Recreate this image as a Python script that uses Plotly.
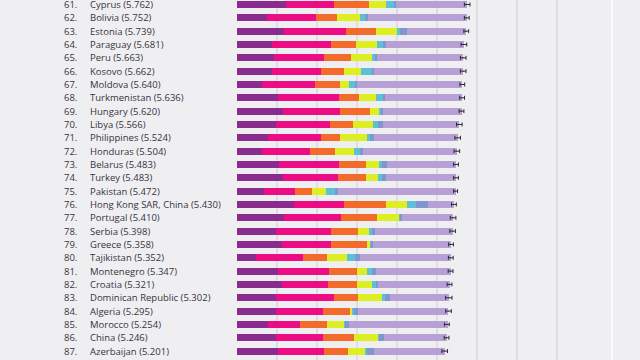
import plotly.graph_objects as go

ranks = list(range(61, 88))
countries = ["Cyprus", "Bolivia", "Estonia", "Paraguay", "Peru", "Kosovo", "Moldova",
             "Turkmenistan", "Hungary", "Libya", "Philippines", "Honduras", "Belarus",
             "Turkey", "Pakistan", "Hong Kong SAR, China", "Portugal", "Serbia", "Greece",
             "Tajikistan", "Montenegro", "Croatia", "Dominican Republic", "Algeria",
             "Morocco", "China", "Azerbaijan"]
scores = [5.762, 5.752, 5.739, 5.681, 5.663, 5.662, 5.640, 5.636, 5.620, 5.566, 5.524,
          5.504, 5.483, 5.483, 5.472, 5.430, 5.410, 5.398, 5.358, 5.352, 5.347, 5.321,
          5.302, 5.295, 5.254, 5.246, 5.201]
gdp = [1.233, 0.750, 1.190, 0.875, 0.940, 0.880, 0.640, 1.040, 1.150, 0.975, 0.775, 0.640,
       1.060, 1.150, 0.670, 1.420, 1.180, 0.975, 1.140, 0.480, 1.025, 1.125, 0.975, 0.975,
       0.775, 0.970, 1.025]
social = [1.200, 1.233, 1.540, 1.483, 1.240, 1.220, 1.320, 1.525, 1.420, 1.360, 1.325, 1.190,
          1.490, 1.375, 0.790, 1.270, 1.425, 1.375, 1.210, 1.170, 1.280, 1.160, 1.450, 1.170,
          0.800, 1.175, 1.160]
health = [0.883, 0.517, 0.750, 0.625, 0.670, 0.570, 0.630, 0.490, 0.750, 0.560, 0.490, 0.625,
          0.670, 0.700, 0.425, 1.030, 0.890, 0.680, 0.900, 0.610, 0.700, 0.725, 0.610, 0.680,
          0.680, 0.775, 0.590]
freedom = [0.417, 0.583, 0.530, 0.517, 0.540, 0.440, 0.210, 0.425, 0.240, 0.500, 0.660, 0.470,
           0.330, 0.310, 0.350, 0.540, 0.550, 0.280, 0.100, 0.490, 0.260, 0.380, 0.590, 0.060,
           0.450, 0.620, 0.450]
generosity = [0.210, 0.125, 0.083, 0.167, 0.090, 0.290, 0.180, 0.180, 0.070, 0.125, 0.083, 0.160,
              0.075, 0.100, 0.210, 0.230, 0.050, 0.075, 0.020, 0.210, 0.110, 0.090, 0.083, 0.050,
              0.010, 0.010, 0.025]
corruption = [0.030, 0.067, 0.175, 0.067, 0.030, 0.030, 0.020, 0.040, 0.025, 0.130, 0.100, 0.083,
              0.140, 0.100, 0.075, 0.290, 0.040, 0.083, 0.030, 0.125, 0.100, 0.060, 0.125, 0.100,
              0.080, 0.130, 0.180]
dystopia = [1.789, 2.477, 1.471, 1.947, 2.153, 2.232, 2.640, 1.936, 1.965, 1.916, 2.091, 2.336,
            1.718, 1.748, 2.952, 0.650, 1.275, 1.930, 1.958, 2.267, 1.872, 1.781, 1.469, 2.235,
            2.489, 1.566, 1.771]
ci_half = [0.07, 0.06, 0.06, 0.07, 0.07, 0.07, 0.06, 0.06, 0.06, 0.07, 0.07, 0.07, 0.06, 0.06,
           0.05, 0.06, 0.07, 0.07, 0.06, 0.06, 0.06, 0.06, 0.08, 0.07, 0.06, 0.06, 0.07]

series_names = ["GDP per capita", "Social support", "Healthy life expectancy",
                "Freedom to make life choices", "Generosity", "Perceptions of corruption",
                "Dystopia + residual"]
series_vals = [gdp, social, health, freedom, generosity, corruption, dystopia]
colors = ["#8A2C8E", "#EC0C84", "#F36B2B", "#DDEE22", "#5DC0D6", "#7E97CF", "#B6A0D6"]

cats = [f"{r}. {c}" for r, c in zip(ranks, countries)]

fig = go.Figure()
for name, vals, col in zip(series_names, series_vals, colors):
    fig.add_trace(go.Bar(y=cats, x=vals, orientation="h", name=name,
                         marker=dict(color=col, line=dict(width=0)), width=0.52))
fig.add_trace(go.Scatter(y=cats, x=scores, mode="markers", marker=dict(size=1, color="#333"),
                         error_x=dict(type="data", array=ci_half, color="#2b2b33",
                                      thickness=1, width=2), showlegend=False))

ann = []
for cat, r, c, s in zip(cats, ranks, countries, scores):
    ann.append(dict(x=79 / 640, xref="paper", y=cat, yref="y", text=f"{r}.", showarrow=False,
                    xanchor="right", yanchor="middle",
                    font=dict(family="Open Sans", size=9.5, color="#34343e")))
    ann.append(dict(x=87.5 / 640, xref="paper", y=cat, yref="y", text=f"{c} ({s:.3f})",
                    showarrow=False, xanchor="left", yanchor="middle",
                    font=dict(family="Open Sans", size=9.5, color="#34343e")))

px_per_unit = 40.0
x0px = 236.7
row_px = 13.33
y_first = 4.5
ymin = -y_first / row_px
ymax = ymin + 360 / row_px

fig.update_layout(
    width=640, height=360, margin=dict(l=0, r=0, t=0, b=0),
    barmode="stack", bargap=0.5, showlegend=False,
    paper_bgcolor="#EFEFF2", plot_bgcolor="#EFEFF2",
    annotations=ann,
    shapes=[dict(type="line", xref="paper", yref="paper", x0=612 / 640, x1=612 / 640,
                 y0=0, y1=1, line=dict(color="#FFFFFF", width=1.5))],
    xaxis=dict(range=[-x0px / px_per_unit, (640 - x0px) / px_per_unit],
               tickvals=[1, 2, 3, 4, 5, 6, 7, 8], showticklabels=False, showgrid=True,
               gridcolor="#DDDDE2", gridwidth=1.5, zeroline=False, showline=False),
    yaxis=dict(type="category", categoryorder="array", categoryarray=cats,
               range=[ymax, ymin], showticklabels=False, showgrid=False, zeroline=False),
)
fig.write_html("out.html", config={"displayModeBar": False},
               post_script="document.body.style.margin='0';"
                           "document.body.style.overflow='hidden';"
                           "document.body.style.background='#EFEFF2';")
